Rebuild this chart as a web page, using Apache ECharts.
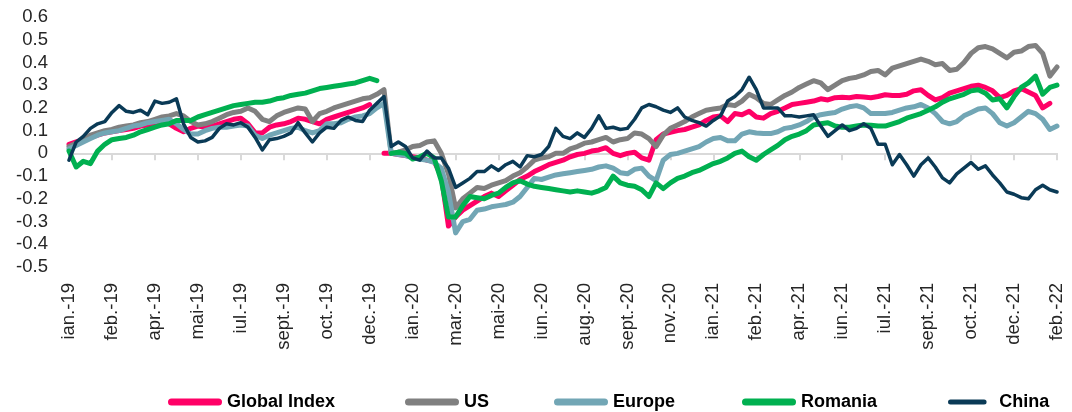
<!DOCTYPE html>
<html>
<head>
<meta charset="utf-8">
<script src="https://cdn.jsdelivr.net/npm/echarts@6/dist/echarts.min.js"></script>
<style>
  html, body { margin: 0; padding: 0; background: #fff; }
  #chart { width: 1072px; height: 412px; }
</style>
</head>
<body>
<div id="chart"></div>
<script>
// labels shown every 6th point on the x axis
var tickLabels = ['ian.-19', 'feb.-19', 'apr.-19', 'mai-19', 'iul.-19', 'sept.-19', 'oct.-19', 'dec.-19',
  'ian.-20', 'mar.-20', 'mai-20', 'iun.-20', 'aug.-20', 'sept.-20', 'nov.-20', 'ian.-21',
  'feb.-21', 'apr.-21', 'iun.-21', 'iul.-21', 'sept.-21', 'oct.-21', 'dec.-21', 'feb.-22'];
var step = 6;

// cumulative returns (2019 block, then reset for 2020-2022)
var globalIndex = [
  0.04, 0.05, 0.06, 0.07, 0.08, 0.09, 0.095, 0.1, 0.105, 0.11, 0.12, 0.125,
  0.13, 0.14, 0.13, 0.11, 0.095, 0.11, 0.12, 0.115, 0.12, 0.13, 0.14, 0.15,
  0.155, 0.13, 0.09, 0.09, 0.115, 0.125, 0.13, 0.14, 0.155, 0.15, 0.14, 0.13,
  0.15, 0.16, 0.17, 0.18, 0.19, 0.2, 0.215, null,
  0.0, 0.0, -0.005, -0.01, -0.015, -0.02, -0.03, -0.035, -0.1, -0.32, -0.28, -0.25,
  -0.23, -0.21, -0.19, -0.175, -0.19, -0.165, -0.14, -0.115, -0.1, -0.08, -0.065, -0.05,
  -0.04, -0.03, -0.015, -0.005, 0.0, 0.01, 0.015, 0.025, 0.0, -0.01, 0.0, 0.005,
  -0.02, -0.03, 0.06, 0.085, 0.093, 0.1, 0.105, 0.115, 0.125, 0.145, 0.16, 0.165,
  0.14, 0.175, 0.17, 0.185, 0.16, 0.155, 0.175, 0.185, 0.2, 0.215, 0.22, 0.225,
  0.23, 0.24, 0.235, 0.245, 0.247, 0.245, 0.25, 0.248, 0.245, 0.25, 0.258, 0.255,
  0.255, 0.26, 0.275, 0.28, 0.255, 0.235, 0.245, 0.265, 0.275, 0.285, 0.295, 0.3,
  0.29, 0.275, 0.245, 0.255, 0.275, 0.285, 0.27, 0.255, 0.2, 0.22, null
];
var us = [
  0.03, 0.045, 0.06, 0.08, 0.09, 0.1, 0.105, 0.115, 0.12, 0.125, 0.135, 0.14,
  0.15, 0.16, 0.165, 0.175, 0.165, 0.14, 0.125, 0.13, 0.14, 0.155, 0.17, 0.18,
  0.185, 0.2, 0.185, 0.15, 0.14, 0.165, 0.18, 0.19, 0.2, 0.195, 0.14, 0.175,
  0.185, 0.2, 0.21, 0.22, 0.23, 0.24, 0.245, 0.26, 0.28, 0.0, 0.005, 0.015,
  0.03, 0.035, 0.05, 0.055, 0.0, -0.09, -0.24, -0.2, -0.175, -0.15, -0.155, -0.14,
  -0.13, -0.12, -0.1, -0.085, -0.06, -0.03, -0.02, -0.015, 0.0, 0.0, 0.02, 0.03,
  0.045, 0.05, 0.06, 0.07, 0.05, 0.06, 0.065, 0.09, 0.085, 0.065, 0.03, 0.08,
  0.11, 0.125, 0.14, 0.16, 0.175, 0.19, 0.195, 0.2, 0.215, 0.21, 0.23, 0.26,
  0.245, 0.22, 0.215, 0.235, 0.255, 0.27, 0.29, 0.305, 0.32, 0.31, 0.28, 0.3,
  0.32, 0.33, 0.335, 0.345, 0.36, 0.365, 0.345, 0.375, 0.385, 0.395, 0.405, 0.415,
  0.405, 0.39, 0.395, 0.365, 0.37, 0.4, 0.44, 0.465, 0.47, 0.46, 0.44, 0.42,
  0.445, 0.45, 0.47, 0.475, 0.44, 0.34, 0.38
];
var europe = [
  0.02, 0.035, 0.05, 0.065, 0.08, 0.09, 0.095, 0.1, 0.11, 0.12, 0.125, 0.135,
  0.14, 0.145, 0.15, 0.13, 0.105, 0.085, 0.085, 0.1, 0.11, 0.115, 0.115, 0.12,
  0.125, 0.12, 0.08, 0.065, 0.08, 0.09, 0.1, 0.11, 0.115, 0.1, 0.09, 0.1,
  0.13, 0.13, 0.135, 0.15, 0.16, 0.165, 0.175, 0.2, 0.22, 0.0, -0.005, -0.01,
  -0.02, -0.025, -0.03, -0.04, -0.065, -0.17, -0.35, -0.3, -0.29, -0.25, -0.245, -0.235,
  -0.23, -0.225, -0.215, -0.19, -0.15, -0.11, -0.115, -0.105, -0.095, -0.09, -0.085, -0.08,
  -0.075, -0.07, -0.06, -0.055, -0.065, -0.085, -0.09, -0.07, -0.065, -0.1, -0.12, -0.03,
  -0.005, 0.0, 0.01, 0.02, 0.03, 0.05, 0.065, 0.07, 0.055, 0.055, 0.085, 0.095,
  0.09, 0.087, 0.087, 0.095, 0.11, 0.115, 0.125, 0.14, 0.16, 0.17, 0.175, 0.18,
  0.195, 0.205, 0.21, 0.2, 0.175, 0.175, 0.175, 0.18, 0.19, 0.2, 0.205, 0.215,
  0.2, 0.175, 0.14, 0.13, 0.14, 0.165, 0.18, 0.195, 0.2, 0.175, 0.135, 0.12,
  0.135, 0.16, 0.185, 0.175, 0.15, 0.105, 0.12
];
var romania = [
  0.01, -0.06, -0.035, -0.045, 0.01, 0.04, 0.06, 0.065, 0.07, 0.08, 0.095, 0.105,
  0.115, 0.125, 0.13, 0.145, 0.145, 0.145, 0.16, 0.17, 0.18, 0.19, 0.2, 0.21,
  0.215, 0.22, 0.225, 0.225, 0.23, 0.24, 0.245, 0.255, 0.26, 0.265, 0.275, 0.285,
  0.29, 0.295, 0.3, 0.305, 0.31, 0.32, 0.33, 0.32, null,
  0.0, 0.005, 0.0, -0.025, -0.015, 0.0, -0.02, -0.12, -0.28, -0.28, -0.23, -0.19,
  -0.195, -0.2, -0.185, -0.175, -0.15, -0.13, -0.12, -0.135, -0.145, -0.15, -0.155, -0.16,
  -0.165, -0.17, -0.165, -0.17, -0.175, -0.165, -0.15, -0.1, -0.13, -0.14, -0.145, -0.16,
  -0.19, -0.13, -0.155, -0.13, -0.11, -0.1, -0.085, -0.075, -0.06, -0.045, -0.035, -0.02,
  0.0, 0.01, -0.015, -0.03, -0.005, 0.015, 0.035, 0.06, 0.075, 0.085, 0.1, 0.125,
  0.13, 0.135, 0.12, 0.115, 0.115, 0.12, 0.125, 0.124, 0.12, 0.12, 0.13, 0.14,
  0.155, 0.165, 0.175, 0.19, 0.205, 0.225, 0.24, 0.25, 0.26, 0.275, 0.28, 0.265,
  0.235, 0.24, 0.2, 0.25, 0.29, 0.31, 0.34, 0.26, 0.29, 0.3
];
var china = [
  -0.03, 0.05, 0.075, 0.11, 0.13, 0.14, 0.18, 0.21, 0.185, 0.18, 0.19, 0.17,
  0.23, 0.22, 0.225, 0.24, 0.13, 0.07, 0.05, 0.055, 0.07, 0.11, 0.13, 0.125,
  0.135, 0.115, 0.07, 0.015, 0.06, 0.065, 0.075, 0.09, 0.135, 0.09, 0.05, 0.09,
  0.115, 0.11, 0.145, 0.16, 0.145, 0.14, 0.19, 0.22, 0.25, 0.03, 0.05, 0.03,
  -0.02, -0.03, 0.01, -0.02, -0.02, -0.065, -0.15, -0.13, -0.11, -0.08, -0.08, -0.055,
  -0.075, -0.05, -0.035, -0.06, -0.01, -0.015, -0.005, 0.03, 0.11, 0.075, 0.065, 0.09,
  0.07, 0.11, 0.165, 0.11, 0.115, 0.105, 0.11, 0.15, 0.2, 0.215, 0.205, 0.19,
  0.18, 0.2, 0.16, 0.145, 0.135, 0.12, 0.145, 0.165, 0.23, 0.25, 0.28, 0.335,
  0.28, 0.2, 0.2, 0.2, 0.165, 0.165, 0.16, 0.165, 0.17, 0.12, 0.075, 0.1,
  0.125, 0.1, 0.11, 0.13, 0.11, 0.04, 0.04, -0.05, -0.005, -0.05, -0.1, -0.05,
  -0.02, -0.06, -0.108, -0.13, -0.09, -0.065, -0.04, -0.07, -0.055, -0.095, -0.13, -0.17,
  -0.18, -0.195, -0.2, -0.16, -0.14, -0.16, -0.17
];

var seriesNames = ['Global Index', 'US', 'Europe', 'Romania', 'China'];
var seriesColors = ['#ff0066', '#808080', '#72a6b5', '#00b050', '#0a3a56'];
var seriesData = [globalIndex, us, europe, romania, china];

var categories = [];
for (var i = 0; i < china.length; i++) categories.push(String(i));

var font = 'Liberation Sans, Arial, sans-serif';
var capsule = 'path://M3.5,0H50.5A3.5,3.5,0,0,1,50.5,7H3.5A3.5,3.5,0,0,1,3.5,0Z';
var legendLeft = [163, 400, 549, 737, 943];

var chart = echarts.init(document.getElementById('chart'));
chart.setOption({
  animation: false,
  grid: { left: 69, right: 15, top: 17, bottom: 145 },
  legend: seriesNames.map(function (name, k) {
    return {
      data: [name],
      left: legendLeft[k],
      top: 388,
      icon: capsule,
      itemWidth: 54,
      itemHeight: k === 4 ? 5 : 7,
      itemStyle: { borderWidth: 0 },
      textStyle: { fontFamily: font, fontSize: 18, fontWeight: 'bold', color: '#000' }
    };
  }),
  xAxis: [{
    type: 'category',
    data: categories,
    boundaryGap: false,
    axisLine: { onZero: true, lineStyle: { color: '#d9d9d9', width: 2 } },
    axisTick: { show: true, interval: step - 1, length: 7, lineStyle: { color: '#d9d9d9', width: 2 } },
    axisLabel: { show: false },
    splitLine: { show: false }
  }, {
    type: 'category',
    data: categories,
    boundaryGap: false,
    position: 'bottom',
    axisLine: { show: false, onZero: false },
    axisTick: { show: false },
    axisLabel: {
      interval: step - 1,
      rotate: 90,
      margin: 16,
      fontFamily: font,
      fontSize: 18.5,
      color: '#262626',
      formatter: function (v, idx) { return idx % step === 0 ? tickLabels[idx / step] : ''; }
    }
  }],
  yAxis: {
    type: 'value',
    min: -0.5,
    max: 0.6,
    interval: 0.1,
    axisLine: { show: false },
    axisTick: { show: false },
    splitLine: { show: false },
    axisLabel: {
      margin: 21,
      fontFamily: font,
      fontSize: 18.5,
      color: '#262626',
      formatter: function (v) { return String(Math.round(v * 10) / 10); }
    }
  },
  series: seriesNames.map(function (name, k) {
    return {
      name: name,
      type: 'line',
      xAxisIndex: 0,
      data: seriesData[k],
      symbol: 'none',
      color: seriesColors[k],
      lineStyle: { width: k === 4 ? 3.5 : 5, cap: 'round', join: 'round' }
    };
  })
});
</script>
</body>
</html>
